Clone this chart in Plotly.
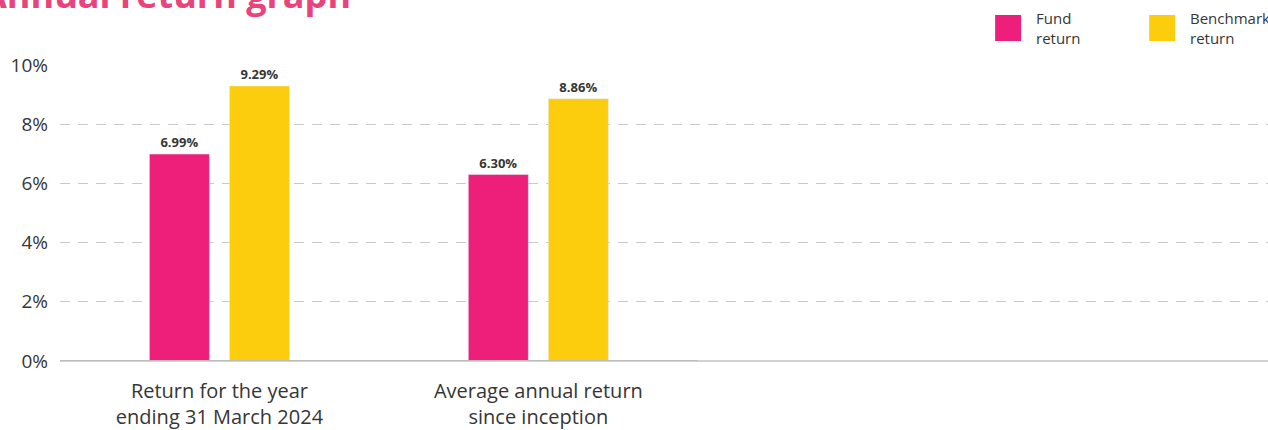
import plotly.graph_objects as go

categories = ["Return for the year<br>ending 31 March 2024", "Average annual return<br>since inception"]
fund_return = [6.99, 6.30]
benchmark_return = [9.29, 8.86]
y_ticks = [0, 2, 4, 6, 8, 10]
y_tick_labels = ["0%", "2%", "4%", "6%", "8%", "10%"]
series_names = ["Fund<br>return", "Benchmark<br>return"]

PINK = "#EE1F7B"
YELLOW = "#FCCD0C"
TEXT = "#363636"
FONT = "'Open Sans', Lato, sans-serif"

xpos = list(range(len(categories)))

fig = go.Figure()
fig.add_bar(x=xpos, y=fund_return, marker_color=PINK, name="Fund return",
            text=[f"{v:.2f}%" for v in fund_return], textposition="outside",
            textfont=dict(size=13, color=TEXT, family=FONT, weight="bold"),
            cliponaxis=False, showlegend=False)
fig.add_bar(x=xpos, y=benchmark_return, marker_color=YELLOW, name="Benchmark return",
            text=[f"{v:.2f}%" for v in benchmark_return], textposition="outside",
            textfont=dict(size=13, color=TEXT, family=FONT, weight="bold"),
            cliponaxis=False, showlegend=False)

fig.update_layout(
    width=1268, height=430,
    margin=dict(l=59.5, r=0, t=65, b=69, autoexpand=False),
    plot_bgcolor="white", paper_bgcolor="white",
    barmode="group", bargap=0.498, bargroupgap=0.25,
    font=dict(family=FONT, color=TEXT),
    showlegend=False,
)
fig.update_xaxes(
    range=[-0.5, 3.288], tickvals=xpos, ticktext=categories,
    showgrid=False, zeroline=False, showline=False, automargin=False,
    tickfont=dict(size=20, color=TEXT, family=FONT),
    ticks="", ticklabelstandoff=16,
)
fig.update_yaxes(
    range=[0, 10], tickvals=y_ticks, ticktext=y_tick_labels,
    showgrid=True, gridcolor="#c9c9c9", griddash="10px,8px", gridwidth=1,
    zeroline=True, zerolinecolor="#d2d2d2", zerolinewidth=2, automargin=False,
    tickfont=dict(size=19, color=TEXT, family=FONT),
    ticklabelstandoff=11, showline=False,
)
# darker baseline under the data categories
fig.add_shape(type="line", xref="x", yref="y", x0=-0.5, x1=len(categories) - 0.5, y0=0, y1=0,
              line=dict(color="#bdbdbd", width=2))

# title (cut off at top, as in the reference)
fig.add_annotation(text="<b>Annual return graph</b>", xref="paper", yref="paper",
                   x=0, y=1, xanchor="left", yanchor="bottom", xshift=-80, yshift=44,
                   showarrow=False, font=dict(size=36, color="#E8437B", family=FONT))

# legend
legend_items = [(0.7741, 0.7956, 0.8064, PINK), (0.9016, 0.9231, 0.9338, YELLOW)]
for (x0, x1, xt, col), name in zip(legend_items, series_names):
    fig.add_shape(type="rect", xref="paper", yref="paper", x0=x0, x1=x1, y0=1.0811, y1=1.1689,
                  fillcolor=col, line=dict(width=0))
    fig.add_annotation(text=name, xref="paper", yref="paper", x=xt, y=1.125,
                       xanchor="left", yanchor="middle", align="left", showarrow=False,
                       font=dict(size=15, color=TEXT, family=FONT))

fig.write_html("out.html", config={"displayModeBar": False},
               post_script="document.body.style.margin='0';")
